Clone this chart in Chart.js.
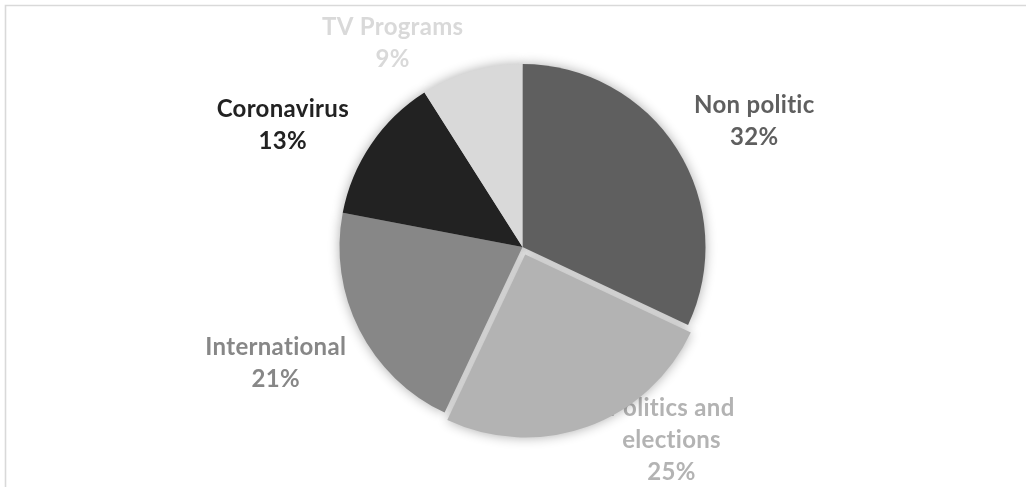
<!DOCTYPE html>
<html>
<head>
<meta charset="utf-8">
<script src="https://cdn.jsdelivr.net/npm/chart.js@4.4.1/dist/chart.umd.min.js"></script>
<style>
  html, body { margin: 0; padding: 0; background: #ffffff; }
  #wrap { position: relative; width: 1026px; height: 487px; }
</style>
</head>
<body>
<div id="wrap"><canvas id="topics"></canvas></div>
<script>
// Share of items per topic (percent)
const categories = ['Non politic', 'Politics and elections', 'International', 'Coronavirus', 'TV Programs'];
const shares = [32, 25, 21, 13, 9];
// How each category name is broken over lines in its label
const labelLines = [['Non politic'], ['Politics and', 'elections'], ['International'], ['Coronavirus'], ['TV Programs']];
const sliceColors = ['#5f5f5f', '#b3b3b3', '#878787', '#222222', '#d9d9d9'];

// Where each label sits: angle shift (deg) from the slice bisector, and distance as a multiple of the radius
const labelPlacement = [
  { turn: 4.0, dist: 1.44 },
  { turn: -18.5, dist: 1.29 },
  { turn: 1.8, dist: 1.49 },
  { turn: -7.2, dist: 1.47 },
  { turn: -16.3, dist: 1.32 }
];

const LABEL_FONT = 'bold 24px Lato';
const LINE_HEIGHT = 32;

function arcShift(arc) {
  const off = (arc.options.offset || 0) / 4;
  const circ = arc.endAngle - arc.startAngle;
  const fix = 1 - Math.sin(Math.min(Math.PI, circ || 0));
  const d = off + off * fix;
  const half = (arc.startAngle + arc.endAngle) / 2;
  return { dx: Math.cos(half) * d, dy: Math.sin(half) * d, half };
}

// Frame, labels (beneath the pie) and a soft shadow around the slices
const piePainter = {
  id: 'piePainter',
  beforeDraw(chart) {
    const ctx = chart.ctx;
    ctx.save();
    ctx.strokeStyle = '#d9d9d9';
    ctx.lineWidth = 1.6;
    ctx.beginPath();
    ctx.moveTo(5.5, chart.height + 5);
    ctx.lineTo(5.5, 5.5);
    ctx.lineTo(chart.width + 5, 5.5);
    ctx.stroke();
    ctx.restore();
  },
  beforeDatasetsDraw(chart) {
    const ctx = chart.ctx;
    const meta = chart.getDatasetMeta(0);
    const data = chart.data.datasets[0].data;
    const total = data.reduce((a, b) => a + b, 0);

    // labels first so the slices overlap them
    ctx.save();
    ctx.font = LABEL_FONT;
    ctx.letterSpacing = '0.3px';
    ctx.textAlign = 'center';
    ctx.textBaseline = 'middle';
    meta.data.forEach((arc, i) => {
      const s = arcShift(arc);
      const p = labelPlacement[i];
      const ang = s.half + p.turn * Math.PI / 180;
      const r = arc.outerRadius * p.dist;
      const cx = arc.x + s.dx + Math.cos(ang) * r;
      const cy = arc.y + s.dy + Math.sin(ang) * r;
      const lines = labelLines[i].concat([Math.round(data[i] / total * 100) + '%']);
      const top = cy - (lines.length - 1) * LINE_HEIGHT / 2;
      ctx.fillStyle = sliceColors[i];
      lines.forEach((t, k) => ctx.fillText(t, cx, top + k * LINE_HEIGHT));
    });
    ctx.restore();

    // shadow only: shapes are drawn off canvas and their shadow is shifted back into place
    const far = 4000;
    ctx.save();
    ctx.shadowColor = 'rgba(0,0,0,0.32)';
    ctx.shadowBlur = 12;
    ctx.shadowOffsetX = far;
    ctx.shadowOffsetY = 0;
    ctx.fillStyle = '#000';
    meta.data.forEach((arc) => {
      const s = arcShift(arc);
      const x = arc.x + s.dx - far, y = arc.y + s.dy;
      ctx.beginPath();
      ctx.moveTo(x, y);
      ctx.arc(x, y, arc.outerRadius, arc.startAngle, arc.endAngle);
      ctx.closePath();
      ctx.fill();
    });
    ctx.restore();
  }
};

new Chart(document.getElementById('topics'), {
  type: 'pie',
  data: {
    labels: categories,
    datasets: [{
      data: shares,
      backgroundColor: sliceColors,
      borderWidth: 0,
      offset: [0, 32, 0, 0, 0]
    }]
  },
  options: {
    responsive: true,
    maintainAspectRatio: false,
    animation: false,
    radius: 183,
    layout: { padding: { left: 19, right: 0, top: 7, bottom: 0 } },
    plugins: {
      legend: { display: false },
      tooltip: { enabled: false },
      title: { display: false }
    }
  },
  plugins: [piePainter]
});
</script>
</body>
</html>
